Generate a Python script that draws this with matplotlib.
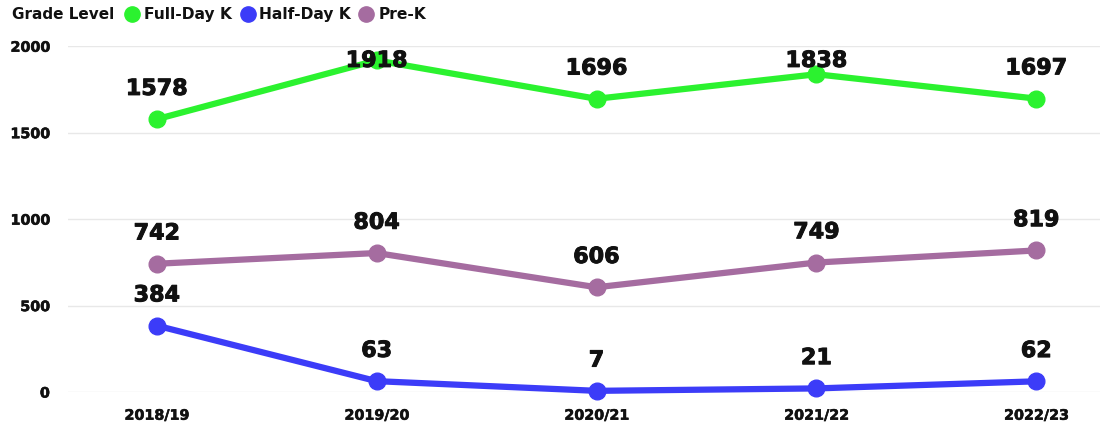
import matplotlib.pyplot as plt
import matplotlib.patheffects as pe
from matplotlib.lines import Line2D

years = ['2018/19', '2019/20', '2020/21', '2021/22', '2022/23']
full_day = [1578, 1918, 1696, 1838, 1697]
half_day = [384, 63, 7, 21, 62]
pre_k = [742, 804, 606, 749, 819]

series = [('Full-Day K', full_day, '#2bf22f'),
          ('Half-Day K', half_day, '#3c3cf8'),
          ('Pre-K', pre_k, '#a56ca0')]

plt.rcParams['font.family'] = ['DejaVu Sans']
plt.rcParams['font.weight'] = 'bold'

# slight thickening so the text looks as heavy as the original
heavy = [pe.withStroke(linewidth=0.7, foreground='#111111')]

fig = plt.figure(figsize=(11.1, 4.28), dpi=100)
ax = fig.add_axes([0.061, 0.084, 0.93, 0.808])

x = list(range(len(years)))
for name, vals, col in series:
    ax.plot(x, vals, color=col, lw=4.5, marker='o', ms=12, solid_capstyle='round', zorder=3, clip_on=False)
    for xi, v in zip(x, vals):
        ly = min(v + 175, 1915)
        ax.text(xi, ly, str(v), ha='center', va='center', fontsize=16, fontweight='bold',
                color='#111111', zorder=4, path_effects=heavy)

ax.set_xlim(-0.405, 4.29)
ax.set_ylim(0, 2000)
ax.set_yticks([0, 500, 1000, 1500, 2000])
ax.set_xticks(x)
ax.set_xticklabels(years)
ax.tick_params(axis='both', length=0, labelsize=10.3, labelcolor='#111111')
ax.tick_params(axis='y', pad=13)
ax.tick_params(axis='x', pad=12)
for lab in ax.get_xticklabels() + ax.get_yticklabels():
    lab.set_fontweight('bold')
    lab.set_path_effects([pe.withStroke(linewidth=0.4, foreground='#111111')])
ax.grid(axis='y', color='#e8e8e8', lw=1)
ax.set_axisbelow(True)
for s in ax.spines.values():
    s.set_visible(False)

fig.text(0.011, 0.965, 'Grade Level', fontsize=11, fontweight='bold', va='center', color='#111111')
handles = [Line2D([], [], ls='none', marker='o', ms=11, color=c) for _, _, c in series]
leg = fig.legend(handles, [n for n, _, _ in series], loc='center left', bbox_to_anchor=(0.113, 0.965),
                 ncol=3, frameon=False, fontsize=11.2, handletextpad=0.3, columnspacing=0.55,
                 handlelength=0.9, borderaxespad=0, borderpad=0)
for t in leg.get_texts():
    t.set_color('#111111')

fig.savefig('out.png', dpi=100)
